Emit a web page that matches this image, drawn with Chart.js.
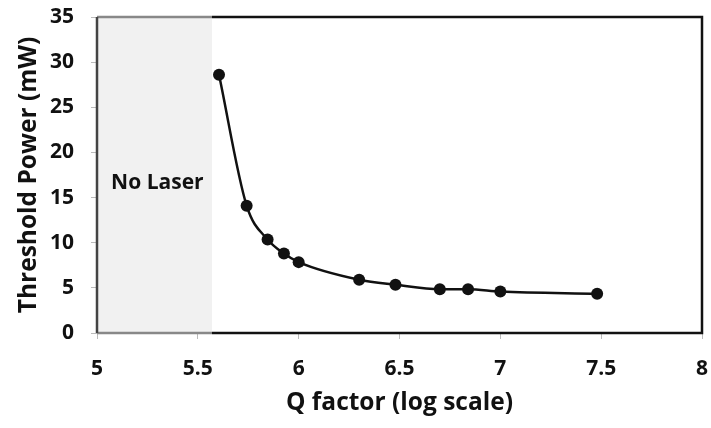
<!DOCTYPE html>
<html>
<head>
<meta charset="utf-8">
<script src="https://cdn.jsdelivr.net/npm/chart.js@4.4.1/dist/chart.umd.min.js"></script>
<style>
  html, body { margin: 0; padding: 0; background: #fff; }
  #wrap { width: 711px; height: 428px; }
</style>
</head>
<body>
<div id="wrap"><canvas id="graph1" width="711" height="428"></canvas></div>
<script>
// valores
const qFactor = [5.605, 5.742, 5.846, 5.927, 6.0, 6.30, 6.48, 6.70, 6.84, 7.0, 7.48];
const thresholdPower = [28.6, 14.1, 10.35, 8.8, 7.85, 5.9, 5.35, 4.85, 4.85, 4.6, 4.35];

const xTicks = [5, 5.5, 6, 6.5, 7, 7.5, 8];
const yTicks = [0, 5, 10, 15, 20, 25, 30, 35];

// região sem laser
const noLaserEdge = 5.57;
const noLaserLabel = 'No Laser';
const noLaserPos = { x: 5.07, y: 16.6 };

const FONT = "'Open Sans', Lato, sans-serif";

const noLaserPlugin = {
    id: 'noLaser',
    beforeDatasetsDraw(chart) {
        const { ctx, chartArea: a, scales: { x, y } } = chart;
        const edge = x.getPixelForValue(noLaserEdge);
        ctx.save();
        ctx.fillStyle = '#f1f1f1';
        ctx.fillRect(a.left, a.top, edge - a.left, a.bottom - a.top);

        // moldura
        ctx.lineWidth = 2.5;
        ctx.strokeStyle = '#888';
        ctx.beginPath();
        ctx.moveTo(a.left, a.top); ctx.lineTo(edge, a.top);
        ctx.moveTo(a.left, a.bottom); ctx.lineTo(edge, a.bottom);
        ctx.stroke();
        ctx.strokeStyle = '#444';
        ctx.beginPath();
        ctx.moveTo(a.left, a.top); ctx.lineTo(a.left, a.bottom);
        ctx.stroke();
        ctx.strokeStyle = '#111';
        ctx.beginPath();
        ctx.moveTo(edge, a.top); ctx.lineTo(a.right, a.top); ctx.lineTo(a.right, a.bottom); ctx.lineTo(edge, a.bottom);
        ctx.stroke();

        ctx.fillStyle = '#111';
        ctx.font = 'bold 21px ' + FONT;
        ctx.textAlign = 'left';
        ctx.textBaseline = 'middle';
        ctx.fillText(noLaserLabel, x.getPixelForValue(noLaserPos.x), y.getPixelForValue(noLaserPos.y));
        ctx.restore();
    }
};

const config = {
    type: 'line',
    data: {
        datasets: [{
            data: qFactor.map((q, i) => ({ x: q, y: thresholdPower[i] })),
            borderColor: '#111',
            backgroundColor: '#111',
            borderWidth: 2.5,
            pointRadius: 6,
            pointBackgroundColor: '#111',
            pointBorderWidth: 0,
            cubicInterpolationMode: 'monotone',
        }]
    },
    options: {
        responsive: false,
        animation: false,
        layout: { padding: { top: 17, right: 9, left: 0, bottom: 0 } },
        plugins: {
            legend: { display: false },
            tooltip: { enabled: false },
        },
        scales: {
            x: {
                type: 'linear',
                min: 5,
                max: 8,
                afterBuildTicks: s => { s.ticks = xTicks.map(v => ({ value: v })); },
                afterFit: s => { s.height = 95; s.paddingLeft = 0; s.paddingRight = 0; },
                grid: { display: true, drawOnChartArea: false, tickLength: 6, color: '#bbb' },
                border: { display: false },
                ticks: {
                    color: '#111',
                    padding: 17,
                    maxRotation: 0,
                    callback: v => String(v),
                    font: { family: FONT, size: 21, weight: 'bold' },
                },
                title: {
                    display: true,
                    text: 'Q factor (log scale)',
                    color: '#111',
                    padding: { top: 0, bottom: 10 },
                    font: { family: FONT, size: 24.5, weight: 'bold', lineHeight: 1.2 },
                }
            },
            y: {
                min: 0,
                max: 35,
                afterBuildTicks: s => { s.ticks = yTicks.map(v => ({ value: v })); },
                afterFit: s => { s.width = 97; s.paddingTop = 0; s.paddingBottom = 0; },
                grid: { display: true, drawOnChartArea: false, tickLength: 6, color: '#bbb' },
                border: { display: false },
                ticks: {
                    color: '#111',
                    padding: 17,
                    font: { family: FONT, size: 21, weight: 'bold' },
                },
                title: {
                    display: true,
                    text: 'Threshold Power (mW)',
                    color: '#111',
                    padding: { top: 14, bottom: 0 },
                    font: { family: FONT, size: 24.5, weight: 'bold', lineHeight: 1.2 },
                }
            }
        }
    },
    plugins: [noLaserPlugin]
};

const chart = new Chart(document.getElementById('graph1'), config);
</script>
</body>
</html>
